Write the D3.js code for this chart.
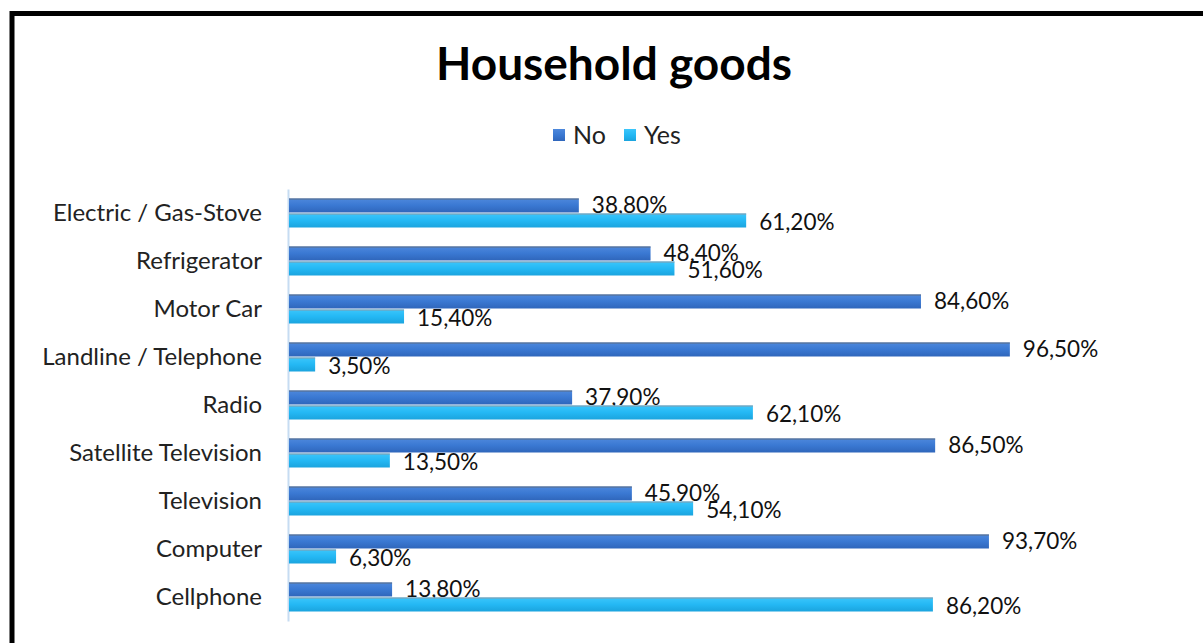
<!DOCTYPE html>
<html>
<head>
<meta charset="utf-8">
<script src="https://cdn.jsdelivr.net/npm/d3@7"></script>
<style>
  body { margin: 0; background: #fff; }
  svg { display: block; font-family: Lato, "Open Sans", sans-serif; }
</style>
</head>
<body>
<svg id="chart" width="1203" height="643"></svg>
<script>
const categories = ['Electric / Gas-Stove', 'Refrigerator', 'Motor Car', 'Landline / Telephone',
    'Radio', 'Satellite Television', 'Television', 'Computer', 'Cellphone'];
const noValues = [38.8, 48.4, 84.6, 96.5, 37.9, 86.5, 45.9, 93.7, 13.8];
const yesValues = [61.2, 51.6, 15.4, 3.5, 62.1, 13.5, 54.1, 6.3, 86.2];
const seriesNames = ['No', 'Yes'];

const svg = d3.select('#chart');
const margin = { top: 189, left: 289, bottom: 22 };

// gradients for the bars
const defs = svg.append('defs');
const grads = [
    { id: 'gNo', top: '#4d88dc', mid: '#3a78d2', bot: '#2f66bb' },
    { id: 'gYes', top: '#3cc6fb', mid: '#24b8f4', bot: '#1ba4de' }
];
grads.forEach(g => {
    const lg = defs.append('linearGradient').attr('id', g.id)
        .attr('x1', 0).attr('x2', 0).attr('y1', 0).attr('y2', 1);
    lg.append('stop').attr('offset', '0%').attr('stop-color', g.top);
    lg.append('stop').attr('offset', '50%').attr('stop-color', g.mid);
    lg.append('stop').attr('offset', '100%').attr('stop-color', g.bot);
});

// frame
svg.append('rect')
    .attr('x', 12).attr('y', 13.5)
    .attr('width', 1300).attr('height', 800)
    .attr('fill', 'none').attr('stroke', '#000').attr('stroke-width', 5);

// title
svg.append('text')
    .attr('x', 614).attr('y', 80)
    .attr('text-anchor', 'middle')
    .attr('font-size', 46).attr('font-weight', 'bold')
    .attr('fill', '#000')
    .text('Household goods');

const x = d3.scaleLinear().domain([0, 100]).range([margin.left, margin.left + 747]);
const y = d3.scaleBand().domain(categories).range([margin.top, margin.top + 432]);
const barH = 14;

// category axis
const yAxis = svg.append('g')
    .attr('transform', `translate(${margin.left - 1},0)`)
    .call(d3.axisLeft(y).tickSize(0).tickPadding(26));
yAxis.select('.domain').attr('stroke', '#c6dcf2').attr('stroke-width', 2);
yAxis.selectAll('text').attr('font-size', 24).attr('fill', '#222')
    .attr('font-family', 'Lato, sans-serif');

const rows = categories.map((c, i) => ({ c, no: noValues[i], yes: yesValues[i] }));

const series = [
    { name: 'No', key: 'no', fill: 'url(#gNo)', edge: '#5b6a82', dy: -barH - 0.5, ldy: 0 },
    { name: 'Yes', key: 'yes', fill: 'url(#gYes)', edge: '#8a9aa8', dy: 0.5, ldy: 2 }
];

series.forEach(s => {
    const g = svg.append('g');
    g.selectAll('rect')
        .data(rows).enter().append('rect')
        .attr('x', x(0))
        .attr('y', d => y(d.c) + y.bandwidth() / 2 + s.dy)
        .attr('width', d => x(d[s.key]) - x(0))
        .attr('height', barH)
        .attr('fill', s.fill);
    g.selectAll('line')
        .data(rows).enter().append('line')
        .attr('x1', x(0))
        .attr('x2', d => x(d[s.key]))
        .attr('y1', d => y(d.c) + y.bandwidth() / 2 + s.dy + 0.5)
        .attr('y2', d => y(d.c) + y.bandwidth() / 2 + s.dy + 0.5)
        .attr('stroke', s.edge).attr('stroke-width', 1);
    g.selectAll('text')
        .data(rows).enter().append('text')
        .attr('x', d => x(d[s.key]) + 13)
        .attr('y', d => y(d.c) + y.bandwidth() / 2 + s.dy + barH / 2 + s.ldy)
        .attr('dy', '0.35em')
        .attr('font-size', 22.5).attr('fill', '#111')
        .text(d => d3.format('.2f')(d[s.key]).replace('.', ',') + '%');
});

// legend
const legend = svg.append('g').attr('transform', 'translate(553,135)');
const legendX = [0, 71];
seriesNames.forEach((n, i) => {
    const lg = legend.append('g').attr('transform', `translate(${legendX[i]},0)`);
    lg.append('rect').attr('x', 0).attr('y', -6).attr('width', 12).attr('height', 12)
        .attr('fill', series[i].fill);
    lg.append('text').attr('x', 20).attr('dy', '0.35em')
        .attr('font-size', 25).attr('fill', '#222').text(n);
});
</script>
</body>
</html>
